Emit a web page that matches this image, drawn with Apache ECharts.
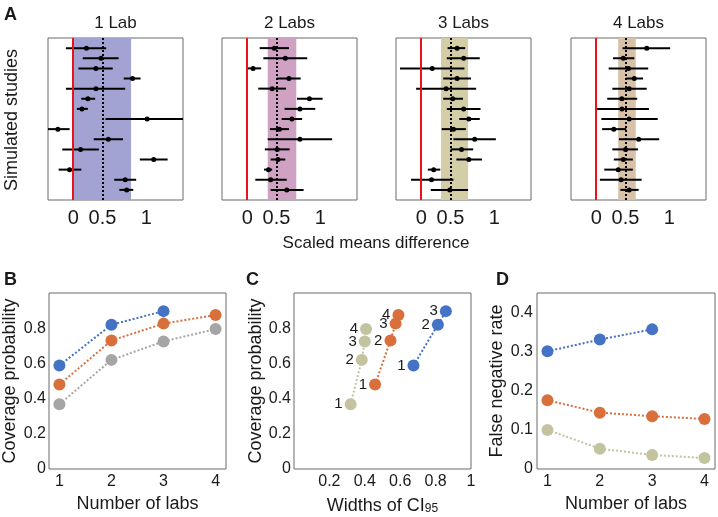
<!DOCTYPE html>
<html>
<head>
<meta charset="utf-8">
<script src="https://cdn.jsdelivr.net/npm/echarts@6/dist/echarts.min.js"></script>
<style>
  html, body { margin: 0; padding: 0; background: #fff; }
  #chart { width: 718px; height: 517px; }
</style>
</head>
<body>
<div id="chart"></div>
<script>
// panel A: one row per simulated study, [low, mean, high], top row first
const oneLab = [
  [-0.10, 0.18, 0.45], [0.13, 0.38, 0.62], [0.07, 0.31, 0.54], [0.69, 0.81, 0.92],
  [-0.10, 0.31, 0.71], [0.11, 0.20, 0.30], [0.05, 0.12, 0.20], [0.44, 1.01, 1.60],
  [-0.40, -0.21, -0.05], [0.28, 0.48, 0.68], [-0.15, 0.10, 0.35], [0.91, 1.10, 1.29],
  [-0.20, -0.05, 0.11], [0.56, 0.71, 0.86], [0.63, 0.73, 0.82]
]
const twoLabs = [
  [0.17, 0.37, 0.57], [0.22, 0.52, 0.82], [-0.01, 0.08, 0.19], [0.41, 0.57, 0.73],
  [0.15, 0.34, 0.53], [0.68, 0.85, 1.03], [0.51, 0.72, 0.93], [0.47, 0.61, 0.75],
  [0.31, 0.44, 0.57], [0.28, 0.72, 1.16], [0.24, 0.41, 0.58], [0.32, 0.42, 0.52],
  [0.23, 0.29, 0.34], [0.11, 0.32, 0.54], [0.32, 0.54, 0.77]
]
const threeLabs = [
  [0.36, 0.49, 0.60], [0.35, 0.58, 0.80], [-0.29, 0.15, 0.59], [0.30, 0.49, 0.68],
  [-0.07, 0.34, 0.75], [0.30, 0.43, 0.57], [0.35, 0.58, 0.81], [0.52, 0.65, 0.80],
  [0.28, 0.44, 0.61], [0.44, 0.73, 1.02], [0.40, 0.55, 0.71], [0.48, 0.65, 0.83],
  [0.09, 0.17, 0.26], [-0.14, 0.14, 0.44], [0.13, 0.39, 0.64]
]
const fourLabs = [
  [0.36, 0.69, 1.01], [0.23, 0.37, 0.52], [0.17, 0.44, 0.71], [0.41, 0.52, 0.64],
  [0.22, 0.45, 0.69], [0.15, 0.35, 0.56], [-0.01, 0.35, 0.72], [0.07, 0.45, 0.84],
  [0.08, 0.24, 0.41], [0.31, 0.58, 0.86], [0.22, 0.40, 0.57], [0.24, 0.37, 0.50],
  [0.11, 0.30, 0.50], [0.05, 0.34, 0.62], [0.33, 0.45, 0.58]
]
const panelTitles = ['1 Lab', '2 Labs', '3 Labs', '4 Labs']
const bandLow = [0.0, 0.28, 0.27, 0.30]
const bandHigh = [0.79, 0.67, 0.64, 0.54]
const trueEffect = 0.4
const tickValuesA = [0, 0.4, 1]
const tickTextA = ['0', '0.5', '1']

// panels B-D
const labsX = [1, 2, 3, 4]
const coverBlue = [0.588, 0.82, 0.897]
const coverOrange = [0.48, 0.73, 0.826, 0.875]
const coverGray = [0.368, 0.62, 0.725, 0.795]
const widthBlue = [0.675, 0.813, 0.858]
const widthOrange = [0.458, 0.545, 0.574, 0.59]
const widthKhaki = [0.32, 0.383, 0.40, 0.407]
const fnrBlue = [0.301, 0.331, 0.357]
const fnrOrange = [0.176, 0.144, 0.135, 0.128]
const fnrKhaki = [0.10, 0.052, 0.036, 0.028]

const FONT = 'Liberation Sans, Arial, sans-serif'
const TXT = '#1a1a1a'
const FRAME = '#6a6a6a'
const BLUE = '#4472c4'
const ORANGE = '#d9703c'
const GRAY = '#a5a5a5'
const KHAKI = '#c3c3a0'
const bandColors = ['#a3a3d3', '#cfa2c4', '#d3cea7', '#d8c2a7']
const studiesA = [oneLab, twoLabs, threeLabs, fourLabs]

const chart = echarts.init(document.getElementById('chart'))

const grids = []
const xAxes = []
const yAxes = []
const series = []

function renderBar (params, api) {
  const y = api.value(0)
  const lo = api.coord([api.value(1), y])
  const hi = api.coord([api.value(2), y])
  const mid = api.coord([api.value(3), y])
  return {
    type: 'group',
    children: [
      { type: 'line', shape: { x1: lo[0], y1: lo[1], x2: hi[0], y2: hi[1] }, style: { stroke: '#000', lineWidth: 2 } },
      { type: 'circle', shape: { cx: mid[0], cy: mid[1], r: 2.5 }, style: { fill: '#000' } }
    ]
  }
}

const leftsA = [48, 222, 396, 571]
studiesA.forEach((rows, p) => {
  grids.push({ left: leftsA[p], top: 38, width: 135, height: 162, show: true, borderColor: FRAME, borderWidth: 1, backgroundColor: 'transparent' })
  xAxes.push({
    gridIndex: p,
    type: 'value',
    min: -0.345,
    max: 1.5,
    axisLine: { show: false },
    axisTick: { show: false },
    splitLine: { show: false },
    axisLabel: {
      customValues: tickValuesA,
      formatter: v => tickTextA[tickValuesA.indexOf(v)],
      fontSize: 20,
      fontFamily: FONT,
      color: TXT,
      margin: 8
    }
  })
  yAxes.push({
    gridIndex: p, type: 'value', min: 0, max: 16,
    axisLine: { show: false }, axisTick: { show: false }, splitLine: { show: false }, axisLabel: { show: false }
  })
  series.push({
    type: 'line', xAxisIndex: p, yAxisIndex: p, data: [], z: 1, silent: true,
    markArea: { silent: true, itemStyle: { color: bandColors[p], opacity: 1 }, data: [[{ xAxis: bandLow[p] }, { xAxis: bandHigh[p] }]] }
  })
  series.push({
    type: 'line', xAxisIndex: p, yAxisIndex: p, data: [], z: 2, silent: true,
    markLine: {
      silent: true,
      symbol: 'none',
      label: { show: false },
      animation: false,
      data: [
        { xAxis: 0, lineStyle: { color: '#e8141c', width: 2, type: 'solid' } },
        { xAxis: trueEffect, lineStyle: { color: '#000', width: 2, type: 'dotted' } }
      ]
    }
  })
  series.push({
    type: 'custom', xAxisIndex: p, yAxisIndex: p, z: 3, clip: true, silent: true,
    renderItem: renderBar,
    encode: { x: [1, 2, 3], y: 0 },
    data: rows.map((r, i) => [rows.length - i, r[0], r[2], r[1]])
  })
})

const axisLabelStyle = { fontSize: 16, fontFamily: FONT, color: TXT }
const nameStyle = { fontSize: 18, fontFamily: FONT, color: TXT }
function plainAxis (extra) {
  return Object.assign({
    type: 'value',
    axisLine: { show: false },
    axisTick: { show: false },
    splitLine: { show: false }
  }, extra)
}

// B
grids.push({ left: 49, top: 293, width: 177, height: 176, show: true, borderColor: FRAME, borderWidth: 1, backgroundColor: 'transparent' })
xAxes.push(plainAxis({ gridIndex: 4, min: 0.8, max: 4.2, axisLabel: Object.assign({ customValues: labsX, margin: 5 }, axisLabelStyle), name: 'Number of labs', nameLocation: 'middle', nameGap: 26, nameTextStyle: nameStyle }))
yAxes.push(plainAxis({ gridIndex: 4, min: 0, max: 1, axisLabel: Object.assign({ customValues: [0, 0.2, 0.4, 0.6, 0.8], margin: 3 }, axisLabelStyle), name: 'Coverage probability', nameLocation: 'middle', nameGap: 30, nameTextStyle: nameStyle }))
// C
grids.push({ left: 294, top: 293, width: 177, height: 176, show: true, borderColor: FRAME, borderWidth: 1, backgroundColor: 'transparent' })
xAxes.push(plainAxis({
  gridIndex: 5, min: 0, max: 1,
  axisLabel: Object.assign({ customValues: [0.2, 0.4, 0.6, 0.8, 1], margin: 5 }, axisLabelStyle),
  name: '{a|Widths of CI}{s|95}', nameLocation: 'middle', nameGap: 20,
  nameTextStyle: {
    rich: {
      a: { fontSize: 18, fontFamily: FONT, color: TXT, lineHeight: 26, verticalAlign: 'bottom' },
      s: { fontSize: 12, fontFamily: FONT, color: TXT, lineHeight: 12, verticalAlign: 'bottom' }
    }
  }
}))
yAxes.push(plainAxis({ gridIndex: 5, min: 0, max: 1, axisLabel: Object.assign({ customValues: [0, 0.2, 0.4, 0.6, 0.8], margin: 3 }, axisLabelStyle), name: 'Coverage probability', nameLocation: 'middle', nameGap: 29, nameTextStyle: nameStyle }))
// D
grids.push({ left: 537, top: 293, width: 178, height: 176, show: true, borderColor: FRAME, borderWidth: 1, backgroundColor: 'transparent' })
xAxes.push(plainAxis({ gridIndex: 6, min: 0.8, max: 4.2, axisLabel: Object.assign({ customValues: labsX, margin: 5 }, axisLabelStyle), name: 'Number of labs', nameLocation: 'middle', nameGap: 26, nameTextStyle: nameStyle }))
yAxes.push(plainAxis({ gridIndex: 6, min: 0, max: 0.45, axisLabel: Object.assign({ customValues: [0, 0.1, 0.2, 0.3, 0.4], margin: 4 }, axisLabelStyle), name: 'False negative rate', nameLocation: 'middle', nameGap: 31, nameTextStyle: nameStyle }))

function dotLine (idx, xs, ys, color, numbered) {
  return {
    type: 'line',
    xAxisIndex: idx,
    yAxisIndex: idx,
    data: ys.map((y, i) => [xs[i], y]),
    symbol: 'circle',
    symbolSize: 12,
    silent: true,
    itemStyle: { color: color, borderWidth: 0 },
    lineStyle: { color: color, width: 2, type: 'dotted' },
    label: numbered
      ? { show: true, position: 'left', distance: 2, formatter: p => String(p.dataIndex + 1), fontSize: 15, fontFamily: FONT, color: TXT }
      : { show: false }
  }
}

series.push(dotLine(4, labsX, coverGray, GRAY, false))
series.push(dotLine(4, labsX, coverOrange, ORANGE, false))
series.push(dotLine(4, labsX, coverBlue, BLUE, false))

series.push(dotLine(5, widthKhaki, coverGray, KHAKI, true))
series.push(dotLine(5, widthOrange, coverOrange, ORANGE, true))
series.push(dotLine(5, widthBlue, coverBlue, BLUE, true))

series.push(dotLine(6, labsX, fnrKhaki, KHAKI, false))
series.push(dotLine(6, labsX, fnrOrange, ORANGE, false))
series.push(dotLine(6, labsX, fnrBlue, BLUE, false))

const graphic = [
  { type: 'text', x: 4, y: 15, style: { text: 'A', font: 'bold 18px ' + FONT, fill: TXT, textVerticalAlign: 'middle' } },
  { type: 'text', x: 4, y: 280, style: { text: 'B', font: 'bold 18px ' + FONT, fill: TXT, textVerticalAlign: 'middle' } },
  { type: 'text', x: 246, y: 280, style: { text: 'C', font: 'bold 18px ' + FONT, fill: TXT, textVerticalAlign: 'middle' } },
  { type: 'text', x: 496, y: 280, style: { text: 'D', font: 'bold 18px ' + FONT, fill: TXT, textVerticalAlign: 'middle' } },
  { type: 'text', x: 376, y: 243, style: { text: 'Scaled means difference', font: '17px ' + FONT, fill: TXT, textAlign: 'center', textVerticalAlign: 'middle' } },
  { type: 'text', x: 12, y: 120, rotation: Math.PI / 2, style: { text: 'Simulated studies', font: '18px ' + FONT, fill: TXT, textAlign: 'center', textVerticalAlign: 'middle' } }
]
panelTitles.forEach((t, p) => {
  graphic.push({ type: 'text', x: leftsA[p] + 67.5, y: 23, style: { text: t, font: '17px ' + FONT, fill: TXT, textAlign: 'center', textVerticalAlign: 'middle' } })
})

chart.setOption({
  animation: false,
  grid: grids,
  xAxis: xAxes,
  yAxis: yAxes,
  series: series,
  graphic: graphic
})
</script>
</body>
</html>
